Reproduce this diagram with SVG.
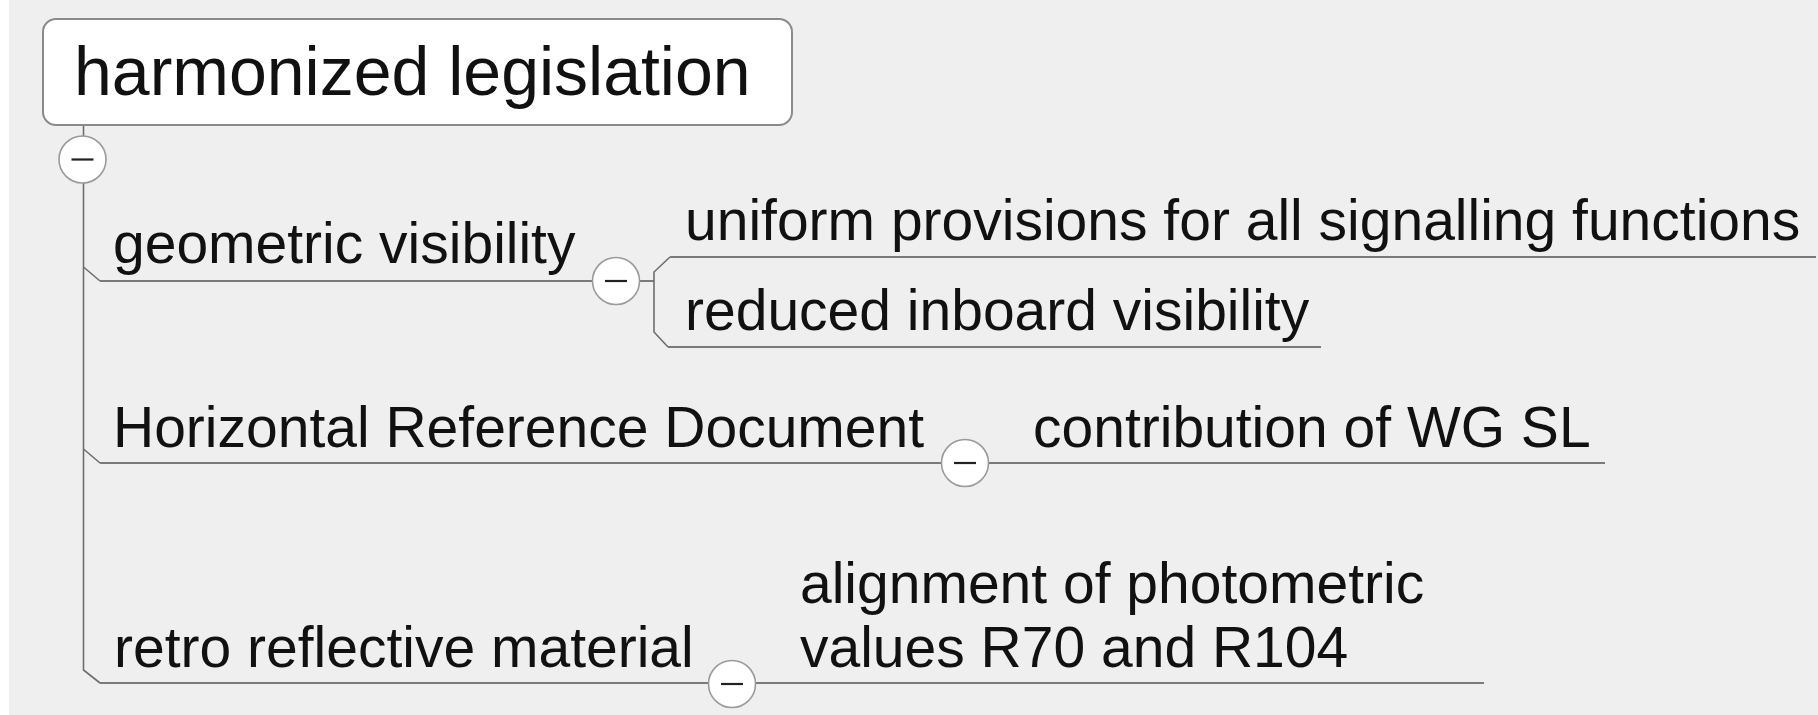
<svg xmlns="http://www.w3.org/2000/svg" width="1818" height="715" viewBox="0 0 1818 715">
<style>
.t{font-family:"Liberation Sans",Arial,sans-serif;fill:#111}
.n{font-size:57px}
.ln{fill:none;stroke:#7a7a7a;stroke-width:2}
.tr{fill:none;stroke:#6e6e6e;stroke-width:1.6}
.cb{fill:#fff;stroke:#9a9a9a;stroke-width:1.6}
.mi{stroke:#222;stroke-width:2.2}
</style>
<defs>
<g id="tog"><circle cx="0" cy="0" r="23.5" class="cb"/><line x1="-11" y1="0" x2="11" y2="0" class="mi"/></g>
</defs>
<rect x="0" y="0" width="1818" height="715" fill="#ffffff"/>
<rect x="9" y="0" width="1809" height="715" fill="#efefef"/>
<g id="connectors">
<path class="tr" d="M83.5 125 V136"/>
<path class="tr" d="M83.5 183 V670 L100 683"/>
<path class="tr" d="M83.5 267 L100 281"/>
<path class="tr" d="M83.5 449 L100 463"/>
<path class="ln" d="M100 281 H592"/>
<path class="ln" d="M640 281 H654"/>
<path class="tr" d="M670 257 L654 272 V332 L668 347"/>
<path class="ln" d="M670 257 H1816"/>
<path class="ln" d="M668 347 H1321"/>
<path class="ln" d="M100 463 H941"/>
<path class="ln" d="M989 463 H1605"/>
<path class="ln" d="M100 683 H708"/>
<path class="ln" d="M756 683 H1484"/>
</g>
<g id="root">
<rect x="43" y="19" width="749" height="106" rx="13" fill="#fff" stroke="#8a8a8a" stroke-width="2"/>
<text class="t" x="74" y="95" font-size="68">harmonized legislation</text>
<use href="#tog" x="82.5" y="159.5"/>
</g>
<g id="geometric">
<text class="t n" x="113" y="263">geometric visibility</text>
<use href="#tog" x="616" y="281"/>
</g>
<g id="uniform">
<text class="t n" x="685" y="240">uniform provisions for all signalling functions</text>
</g>
<g id="reduced">
<text class="t n" x="685" y="330">reduced inboard visibility</text>
</g>
<g id="hrd">
<text class="t n" x="113" y="447">Horizontal Reference Document</text>
<use href="#tog" x="965" y="463"/>
</g>
<g id="contribution">
<text class="t n" x="1033" y="447">contribution of WG SL</text>
</g>
<g id="retro">
<text class="t n" x="114" y="667">retro reflective material</text>
<use href="#tog" x="732" y="684"/>
</g>
<g id="alignment">
<text class="t n" x="800" y="603">alignment of photometric</text>
<text class="t n" x="800" y="667">values R70 and R104</text>
</g>
</svg>
